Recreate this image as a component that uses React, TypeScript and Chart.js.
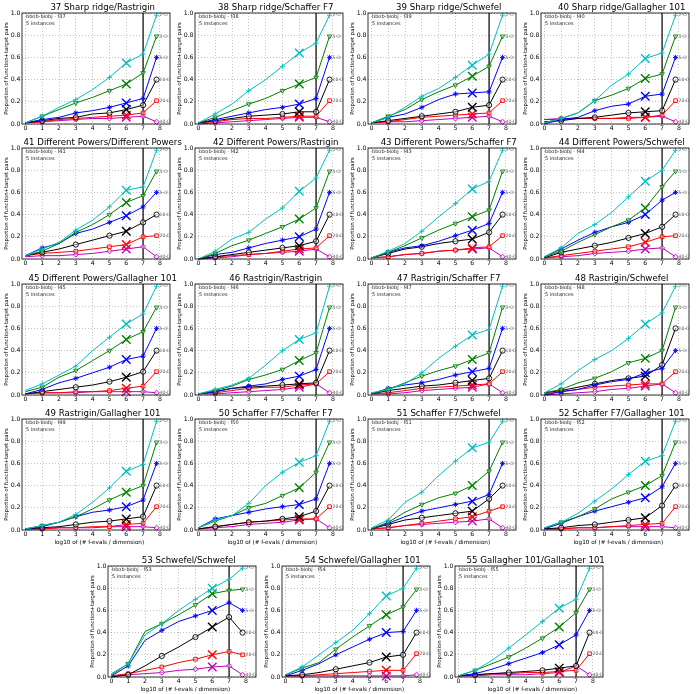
import React, { useEffect, useRef } from 'react';
import { Chart, registerables } from 'chart.js';
Chart.register(...registerables);

// ---------- data ----------
const X_VALUES = [0, 1, 2, 3, 4, 5, 6, 7, 7.8];
const X_TICKS = [0, 1, 2, 3, 4, 5, 6, 7, 8];
const Y_TICKS = [0, 0.2, 0.4, 0.6, 0.8, 1.0];
const DIM_LABELS = ['2-D', '3-D', '5-D', '10-D', '20-D', '40-D'];
const COLORS = ['#00bfbf', '#008000', '#0000ff', '#000000', '#ff0000', '#bf00bf'];
const MARKERS = ['cross', 'triangle', 'star', 'circle', 'rect', 'rectRot'];
const BUDGET_X = 7;
const BIG_X_INDEX = 6;
const MARK_INDICES = [1, 3, 5, 7, 8];

const TITLES = [
  '37 Sharp ridge/Rastrigin', '38 Sharp ridge/Schaffer F7', '39 Sharp ridge/Schwefel', '40 Sharp ridge/Gallagher 101',
  '41 Different Powers/Different Powers', '42 Different Powers/Rastrigin', '43 Different Powers/Schaffer F7', '44 Different Powers/Schwefel',
  '45 Different Powers/Gallagher 101', '46 Rastrigin/Rastrigin', '47 Rastrigin/Schaffer F7', '48 Rastrigin/Schwefel',
  '49 Rastrigin/Gallagher 101', '50 Schaffer F7/Schaffer F7', '51 Schaffer F7/Schwefel', '52 Schaffer F7/Gallagher 101',
  '53 Schwefel/Schwefel', '54 Schwefel/Gallagher 101', '55 Gallagher 101/Gallagher 101',
];
const FIDS = [37, 38, 39, 40, 41, 42, 43, 44, 45, 46, 47, 48, 49, 50, 51, 52, 53, 54, 55];

const f37 = [
  [0.01, 0.07, 0.15, 0.22, 0.31, 0.42, 0.55, 0.63, 0.98],
  [0.01, 0.07, 0.13, 0.19, 0.24, 0.30, 0.36, 0.46, 0.79],
  [0.01, 0.04, 0.06, 0.10, 0.12, 0.15, 0.19, 0.23, 0.60],
  [0.01, 0.03, 0.05, 0.06, 0.09, 0.10, 0.13, 0.17, 0.40],
  [0.01, 0.02, 0.04, 0.05, 0.06, 0.07, 0.08, 0.10, 0.21],
  [0.01, 0.02, 0.03, 0.04, 0.05, 0.05, 0.06, 0.07, 0.02],
];
const f38 = [
  [0.01, 0.09, 0.18, 0.30, 0.40, 0.52, 0.64, 0.73, 0.98],
  [0.01, 0.06, 0.12, 0.18, 0.23, 0.30, 0.36, 0.42, 0.79],
  [0.01, 0.04, 0.07, 0.10, 0.13, 0.15, 0.18, 0.23, 0.60],
  [0.01, 0.03, 0.05, 0.07, 0.08, 0.09, 0.11, 0.11, 0.40],
  [0.01, 0.02, 0.04, 0.05, 0.05, 0.06, 0.07, 0.07, 0.21],
  [0.00, 0.01, 0.02, 0.03, 0.04, 0.05, 0.06, 0.06, 0.02],
];
const f39 = [
  [0.01, 0.06, 0.15, 0.25, 0.32, 0.42, 0.53, 0.63, 0.98],
  [0.01, 0.07, 0.13, 0.22, 0.29, 0.35, 0.43, 0.52, 0.79],
  [0.01, 0.06, 0.09, 0.15, 0.22, 0.27, 0.28, 0.29, 0.60],
  [0.01, 0.03, 0.05, 0.07, 0.09, 0.11, 0.15, 0.17, 0.40],
  [0.01, 0.02, 0.04, 0.06, 0.07, 0.08, 0.09, 0.10, 0.21],
  [0.01, 0.02, 0.02, 0.03, 0.04, 0.05, 0.06, 0.07, 0.02],
];
const f40 = [
  [0.01, 0.05, 0.10, 0.21, 0.35, 0.45, 0.59, 0.64, 0.98],
  [0.01, 0.05, 0.10, 0.21, 0.26, 0.32, 0.41, 0.45, 0.79],
  [0.00, 0.04, 0.06, 0.12, 0.16, 0.18, 0.25, 0.27, 0.60],
  [0.02, 0.03, 0.05, 0.06, 0.08, 0.10, 0.11, 0.12, 0.40],
  [0.04, 0.04, 0.05, 0.05, 0.05, 0.05, 0.06, 0.08, 0.21],
  [0.04, 0.05, 0.05, 0.05, 0.05, 0.06, 0.06, 0.07, 0.02],
];
const f41 = [
  [0.03, 0.09, 0.15, 0.26, 0.35, 0.47, 0.62, 0.65, 0.98],
  [0.03, 0.07, 0.14, 0.24, 0.31, 0.40, 0.51, 0.57, 0.79],
  [0.03, 0.10, 0.14, 0.23, 0.27, 0.33, 0.39, 0.47, 0.60],
  [0.03, 0.06, 0.09, 0.13, 0.17, 0.21, 0.25, 0.33, 0.40],
  [0.03, 0.05, 0.06, 0.07, 0.09, 0.11, 0.13, 0.20, 0.21],
  [0.02, 0.03, 0.03, 0.04, 0.05, 0.07, 0.09, 0.11, 0.02],
];
const f42 = [
  [0.00, 0.07, 0.18, 0.24, 0.36, 0.46, 0.61, 0.73, 0.98],
  [0.00, 0.05, 0.12, 0.17, 0.23, 0.29, 0.36, 0.46, 0.79],
  [0.00, 0.04, 0.06, 0.10, 0.14, 0.17, 0.20, 0.27, 0.60],
  [0.00, 0.02, 0.04, 0.06, 0.08, 0.10, 0.12, 0.16, 0.40],
  [0.00, 0.02, 0.03, 0.04, 0.05, 0.07, 0.09, 0.10, 0.21],
  [0.00, 0.01, 0.02, 0.04, 0.05, 0.06, 0.07, 0.09, 0.02],
];
const f43 = [
  [0.01, 0.07, 0.14, 0.25, 0.38, 0.50, 0.63, 0.70, 0.98],
  [0.01, 0.06, 0.12, 0.19, 0.26, 0.32, 0.38, 0.44, 0.79],
  [0.01, 0.06, 0.10, 0.12, 0.16, 0.21, 0.26, 0.32, 0.60],
  [0.01, 0.05, 0.09, 0.11, 0.14, 0.16, 0.18, 0.24, 0.40],
  [0.01, 0.02, 0.04, 0.05, 0.07, 0.08, 0.10, 0.11, 0.21],
  [0.01, 0.02, 0.04, 0.05, 0.07, 0.08, 0.09, 0.10, 0.02],
];
const f44 = [
  [0.02, 0.10, 0.23, 0.31, 0.42, 0.56, 0.70, 0.80, 0.98],
  [0.02, 0.07, 0.15, 0.22, 0.29, 0.35, 0.46, 0.65, 0.79],
  [0.02, 0.09, 0.17, 0.24, 0.29, 0.33, 0.40, 0.53, 0.60],
  [0.01, 0.06, 0.09, 0.12, 0.15, 0.19, 0.23, 0.29, 0.40],
  [0.01, 0.03, 0.05, 0.07, 0.09, 0.11, 0.15, 0.20, 0.21],
  [0.01, 0.02, 0.03, 0.05, 0.06, 0.07, 0.09, 0.10, 0.02],
];
const f45 = [
  [0.04, 0.10, 0.18, 0.26, 0.40, 0.52, 0.64, 0.73, 0.98],
  [0.03, 0.07, 0.16, 0.22, 0.31, 0.40, 0.50, 0.57, 0.79],
  [0.01, 0.05, 0.11, 0.15, 0.20, 0.25, 0.32, 0.35, 0.60],
  [0.01, 0.03, 0.05, 0.07, 0.09, 0.12, 0.16, 0.21, 0.40],
  [0.01, 0.02, 0.02, 0.03, 0.03, 0.04, 0.06, 0.08, 0.21],
  [0.01, 0.02, 0.02, 0.02, 0.03, 0.03, 0.03, 0.03, 0.02],
];
const f46 = [
  [0.01, 0.05, 0.09, 0.15, 0.27, 0.40, 0.50, 0.56, 0.98],
  [0.01, 0.04, 0.08, 0.14, 0.18, 0.23, 0.31, 0.38, 0.79],
  [0.01, 0.03, 0.06, 0.08, 0.10, 0.14, 0.17, 0.23, 0.60],
  [0.01, 0.03, 0.06, 0.07, 0.08, 0.09, 0.10, 0.11, 0.40],
  [0.01, 0.02, 0.04, 0.06, 0.07, 0.07, 0.09, 0.10, 0.21],
  [0.01, 0.01, 0.02, 0.03, 0.04, 0.05, 0.07, 0.10, 0.02],
];
const f47 = [
  [0.02, 0.05, 0.10, 0.20, 0.33, 0.44, 0.54, 0.59, 0.98],
  [0.01, 0.05, 0.11, 0.17, 0.22, 0.26, 0.32, 0.38, 0.79],
  [0.01, 0.06, 0.09, 0.11, 0.14, 0.18, 0.21, 0.24, 0.60],
  [0.01, 0.04, 0.06, 0.08, 0.09, 0.11, 0.13, 0.15, 0.40],
  [0.01, 0.02, 0.04, 0.06, 0.07, 0.08, 0.09, 0.10, 0.21],
  [0.01, 0.01, 0.02, 0.04, 0.05, 0.06, 0.07, 0.10, 0.02],
];
const f48 = [
  [0.02, 0.10, 0.22, 0.32, 0.40, 0.51, 0.64, 0.74, 0.98],
  [0.02, 0.05, 0.11, 0.15, 0.21, 0.29, 0.33, 0.40, 0.79],
  [0.00, 0.03, 0.05, 0.09, 0.12, 0.14, 0.20, 0.24, 0.40],
  [0.02, 0.04, 0.07, 0.10, 0.13, 0.15, 0.17, 0.27, 0.60],
  [0.01, 0.03, 0.05, 0.07, 0.08, 0.09, 0.10, 0.10, 0.21],
  [0.00, 0.01, 0.02, 0.03, 0.05, 0.06, 0.08, 0.10, 0.02],
];
const f49 = [
  [0.01, 0.04, 0.07, 0.14, 0.25, 0.38, 0.53, 0.59, 0.98],
  [0.01, 0.04, 0.07, 0.12, 0.19, 0.27, 0.34, 0.40, 0.79],
  [0.01, 0.03, 0.07, 0.12, 0.16, 0.18, 0.21, 0.27, 0.60],
  [0.01, 0.02, 0.03, 0.05, 0.07, 0.08, 0.10, 0.12, 0.40],
  [0.01, 0.01, 0.02, 0.02, 0.03, 0.03, 0.05, 0.06, 0.21],
  [0.01, 0.01, 0.02, 0.02, 0.02, 0.03, 0.03, 0.03, 0.02],
];
const f50 = [
  [0.02, 0.09, 0.13, 0.24, 0.40, 0.52, 0.61, 0.67, 0.98],
  [0.02, 0.08, 0.13, 0.20, 0.24, 0.31, 0.38, 0.52, 0.79],
  [0.02, 0.10, 0.13, 0.16, 0.19, 0.21, 0.23, 0.28, 0.60],
  [0.01, 0.03, 0.05, 0.07, 0.08, 0.10, 0.12, 0.17, 0.40],
  [0.01, 0.03, 0.05, 0.07, 0.08, 0.09, 0.10, 0.10, 0.21],
  [0.01, 0.02, 0.03, 0.05, 0.06, 0.07, 0.09, 0.10, 0.02],
];
const f51 = [
  [0.02, 0.09, 0.25, 0.34, 0.49, 0.62, 0.74, 0.79, 0.98],
  [0.01, 0.07, 0.16, 0.23, 0.29, 0.33, 0.40, 0.53, 0.79],
  [0.01, 0.06, 0.12, 0.17, 0.20, 0.23, 0.26, 0.32, 0.60],
  [0.01, 0.05, 0.09, 0.11, 0.13, 0.15, 0.17, 0.28, 0.40],
  [0.01, 0.02, 0.04, 0.06, 0.08, 0.10, 0.12, 0.17, 0.21],
  [0.01, 0.02, 0.04, 0.05, 0.06, 0.07, 0.08, 0.10, 0.02],
];
const f52 = [
  [0.02, 0.07, 0.15, 0.26, 0.37, 0.50, 0.62, 0.67, 0.98],
  [0.02, 0.07, 0.12, 0.19, 0.28, 0.34, 0.40, 0.49, 0.79],
  [0.01, 0.06, 0.12, 0.17, 0.21, 0.25, 0.29, 0.39, 0.60],
  [0.01, 0.02, 0.04, 0.05, 0.07, 0.09, 0.11, 0.22, 0.40],
  [0.01, 0.01, 0.02, 0.02, 0.03, 0.04, 0.05, 0.06, 0.21],
  [0.01, 0.01, 0.02, 0.02, 0.03, 0.03, 0.03, 0.03, 0.02],
];
const f53 = [
  [0.03, 0.12, 0.38, 0.48, 0.60, 0.70, 0.80, 0.88, 0.98],
  [0.02, 0.12, 0.41, 0.48, 0.56, 0.65, 0.75, 0.78, 0.79],
  [0.01, 0.10, 0.33, 0.42, 0.50, 0.55, 0.60, 0.67, 0.60],
  [0.00, 0.02, 0.10, 0.19, 0.27, 0.36, 0.45, 0.54, 0.40],
  [0.01, 0.03, 0.06, 0.09, 0.13, 0.16, 0.20, 0.23, 0.20],
  [0.01, 0.02, 0.03, 0.04, 0.06, 0.07, 0.09, 0.10, 0.02],
];
const f54 = [
  [0.02, 0.09, 0.20, 0.31, 0.42, 0.57, 0.73, 0.80, 0.98],
  [0.02, 0.08, 0.13, 0.25, 0.36, 0.46, 0.56, 0.63, 0.79],
  [0.01, 0.06, 0.12, 0.20, 0.27, 0.34, 0.40, 0.41, 0.60],
  [0.01, 0.02, 0.04, 0.07, 0.10, 0.13, 0.18, 0.20, 0.40],
  [0.01, 0.01, 0.02, 0.03, 0.04, 0.05, 0.06, 0.06, 0.21],
  [0.01, 0.01, 0.01, 0.01, 0.01, 0.01, 0.01, 0.01, 0.02],
];
const f55 = [
  [0.01, 0.06, 0.15, 0.26, 0.38, 0.50, 0.62, 0.70, 0.98],
  [0.01, 0.06, 0.12, 0.18, 0.26, 0.35, 0.45, 0.58, 0.79],
  [0.01, 0.03, 0.07, 0.12, 0.17, 0.22, 0.29, 0.38, 0.60],
  [0.01, 0.02, 0.03, 0.04, 0.05, 0.06, 0.08, 0.10, 0.40],
  [0.01, 0.02, 0.03, 0.03, 0.04, 0.04, 0.05, 0.06, 0.21],
  [0.01, 0.01, 0.02, 0.02, 0.02, 0.03, 0.04, 0.10, 0.02],
];
const ALL_DATA = [f37, f38, f39, f40, f41, f42, f43, f44, f45, f46, f47, f48, f49, f50, f51, f52, f53, f54, f55];

// ---------- layout ----------
const COL_STEP = 173.2;
const GRID_LEFT0 = 21.6;
const BOTTOM_LEFT0 = 108.3;
const ROW_TOPS = [12.7, 148.3, 283.8, 419.2];
const BOTTOM_TOP = 565.7;
const L = 22, T = 14, FW = 148, R = 34, PH = 111;
const FONT = 'DejaVu Sans';

const decor = {
  id: 'decor',
  beforeDatasetsDraw(chart: any) {
    const { ctx, chartArea: a, scales } = chart;
    const px = scales.x.getPixelForValue(BUDGET_X);
    ctx.save();
    ctx.strokeStyle = 'rgba(0,0,0,0.75)';
    ctx.lineWidth = 1.6;
    ctx.beginPath();
    ctx.moveTo(px, a.top);
    ctx.lineTo(px, a.bottom);
    ctx.stroke();
    ctx.restore();
  },
  afterDraw(chart: any, _a: any, opts: any) {
    const { ctx, chartArea: a, scales } = chart;
    const x = scales.x, y = scales.y;
    ctx.save();
    ctx.strokeStyle = '#000';
    ctx.lineWidth = 0.8;
    ctx.strokeRect(a.left, a.top, a.right - a.left, a.bottom - a.top);
    ctx.fillStyle = '#000';
    ctx.font = `8.6px "${FONT}"`;
    ctx.textAlign = 'center';
    ctx.textBaseline = 'middle';
    ctx.fillText(opts.title, x.getPixelForValue(4.6), a.top - 4.8);
    ctx.font = `5px "${FONT}"`;
    ctx.fillStyle = '#222';
    ctx.textAlign = 'left';
    ctx.fillText(`bbob-biobj - f${opts.fid}`, a.left + 4, a.top + 4);
    ctx.fillText('5 instances', a.left + 4, a.top + 10.5);
    ctx.font = `4.6px "${FONT}"`;
    ctx.fillStyle = '#666';
    const lastX = x.getPixelForValue(X_VALUES[X_VALUES.length - 1]) + 3;
    chart.data.datasets.forEach((ds: any, i: number) => {
      const last = ds.data[ds.data.length - 1];
      ctx.fillText(DIM_LABELS[i], lastX, y.getPixelForValue(last.y));
    });
    ctx.fillStyle = '#000';
    ctx.font = `5.3px "${FONT}"`;
    ctx.textAlign = 'center';
    ctx.save();
    ctx.translate(a.left - 15.5, (a.top + a.bottom) / 2);
    ctx.rotate(-Math.PI / 2);
    ctx.fillText('Proportion of function+target pairs', 0, 0);
    ctx.restore();
    if (opts.xLabel) {
      ctx.font = `5.7px "${FONT}"`;
      ctx.fillText('log10 of (# f-evals / dimension)', x.getPixelForValue(4.4), a.bottom + 12.8);
    }
    ctx.restore();
  },
};

function Panel({ idx, frameLeft, plotTop, xLabel }: { idx: number; frameLeft: number; plotTop: number; xLabel: boolean }) {
  const ref = useRef<HTMLCanvasElement>(null);
  const B = xLabel ? 20 : 10;
  const W = L + FW + R;
  const H = T + PH + B;
  useEffect(() => {
    const rows = ALL_DATA[idx];
    const chart = new Chart(ref.current as HTMLCanvasElement, {
      type: 'line',
      data: {
        datasets: rows.map((row, i) => ({
          label: DIM_LABELS[i],
          data: row.map((v, j) => ({ x: X_VALUES[j], y: v })),
          borderColor: COLORS[i],
          borderWidth: 1,
          tension: 0,
          fill: false,
          clip: false as any,
          pointStyle: (c: any) => (c.dataIndex === BIG_X_INDEX ? 'crossRot' : MARKERS[i]) as any,
          pointRadius: (c: any) => (c.dataIndex === BIG_X_INDEX ? 6 : MARK_INDICES.includes(c.dataIndex) ? 2.6 : 0),
          pointRotation: (c: any) => (i === 1 && c.dataIndex !== BIG_X_INDEX ? 180 : 0),
          pointBorderWidth: (c: any) => (c.dataIndex === BIG_X_INDEX ? 1.4 : 0.9),
          pointBorderColor: COLORS[i],
          pointBackgroundColor: i === 2 ? COLORS[i] : 'rgba(255,255,255,0.4)',
          pointHoverRadius: 0,
        })),
      },
      options: {
        responsive: false,
        animation: false,
        devicePixelRatio: 1,
        events: [],
        layout: { padding: { left: 0, top: T, right: R, bottom: 0 } },
        plugins: {
          legend: { display: false },
          title: { display: false },
          tooltip: { enabled: false },
          decor: { title: TITLES[idx], fid: FIDS[idx], xLabel },
        } as any,
        scales: {
          x: {
            type: 'linear',
            min: -0.2,
            max: 8.6,
            afterBuildTicks: (s: any) => { s.ticks = X_TICKS.map((v) => ({ value: v })); },
            afterFit: (s: any) => { s.height = B; },
            ticks: { font: { family: FONT, size: 6.2 }, color: '#000', padding: 1, maxRotation: 0, autoSkip: false, callback: (v: any) => String(v) },
            grid: { color: 'rgba(0,0,0,0.4)', lineWidth: 0.6, drawTicks: false },
            border: { display: false, dash: [1, 2] },
          },
          y: {
            type: 'linear',
            min: 0,
            max: 1,
            afterBuildTicks: (s: any) => { s.ticks = Y_TICKS.map((v) => ({ value: v })); },
            afterFit: (s: any) => { s.width = L; },
            ticks: { font: { family: FONT, size: 6.2 }, color: '#000', padding: 1.5, autoSkip: false, callback: (v: any) => Number(v).toFixed(1) },
            grid: { color: 'rgba(0,0,0,0.4)', lineWidth: 0.6, drawTicks: false },
            border: { display: false, dash: [1, 2] },
          },
        },
      },
      plugins: [decor],
    } as any);
    return () => chart.destroy();
  }, [idx]);
  const left = Math.round(frameLeft - L);
  const top = Math.round(plotTop - T);
  return <canvas ref={ref} width={W} height={H} style={{ position: 'absolute', left, top, width: W, height: H }} />;
}

export default function App() {
  const panels: { idx: number; frameLeft: number; plotTop: number; xLabel: boolean }[] = [];
  for (let r = 0; r < 4; r++) {
    for (let c = 0; c < 4; c++) {
      panels.push({ idx: r * 4 + c, frameLeft: GRID_LEFT0 + c * COL_STEP, plotTop: ROW_TOPS[r], xLabel: r === 3 });
    }
  }
  for (let c = 0; c < 3; c++) {
    panels.push({ idx: 16 + c, frameLeft: BOTTOM_LEFT0 + c * COL_STEP, plotTop: BOTTOM_TOP, xLabel: true });
  }
  return (
    <div style={{ position: 'absolute', left: 0, top: 0, width: 696, height: 694, background: '#fff' }}>
      {panels.map((p) => (
        <Panel key={p.idx} {...p} />
      ))}
    </div>
  );
}
